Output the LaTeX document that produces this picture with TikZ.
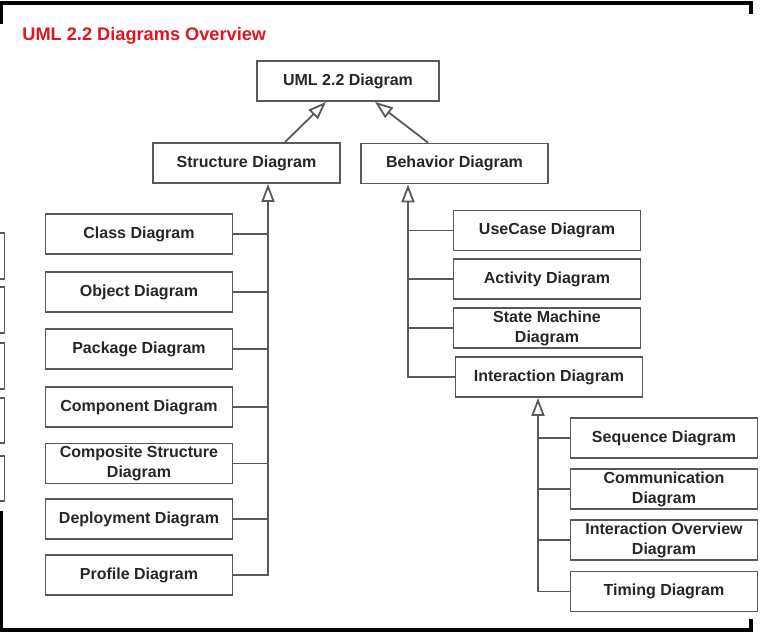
\documentclass[tikz,border=0pt]{standalone}
\usepackage{fontspec}
\setmainfont{Liberation Sans}
\usepackage{tikz}
\usetikzlibrary{arrows.meta,calc}

\begin{document}
\begin{tikzpicture}[x=0.5pt,y=-0.5pt,
  box/.style={draw=black!65,line width=0.9pt,minimum width=93.5pt,minimum height=20pt,inner sep=1pt,align=center,text=black!85,font=\fontsize{8}{10}\selectfont\bfseries},
  link/.style={draw=black!65,line width=0.9pt},
  gen/.style={link,-{Triangle[open,length=9pt,width=6.5pt,fill=white]}},
  frame/.style={line width=1.8pt,black}]
\clip (0,0) rectangle (767,632);
% frame of the screenshot
\draw[frame] (1,24) -- (1,3) -- (751,3) -- (751,14);
\draw[frame] (1,511) -- (1,630) -- (751,630) -- (751,619);
\draw[link] (-20,233) rectangle (4.5,279);
\draw[link] (-20,287) rectangle (4.5,333);
\draw[link] (-20,343) rectangle (4.5,389);
\draw[link] (-20,398) rectangle (4.5,443);
\draw[link] (-20,456) rectangle (4.5,501);
% title
\node[anchor=base west,inner sep=0pt,text={rgb,255:red,228;green,20;blue,30},font=\fontsize{9.1}{11}\selectfont\bfseries] (title) at (22,40) {UML 2.2 Diagrams Overview};
% top levels
\node[box,minimum width=91pt] (uml) at (348,81) {UML 2.2 Diagram};
\node[box] (structure) at (246.5,163) {Structure Diagram};
\node[box] (behavior) at (454.5,163.5) {Behavior Diagram};
\draw[gen] ($(structure.north)+(38.5,0)$) -- ($(uml.south)+(-22,0)$);
\draw[gen] ($(behavior.north)+(-26.5,0)$) -- ($(uml.south)+(27,0)$);
% structure diagrams
\node[box] (class) at (139,234) {Class Diagram};
\node[box] (object) at (139,292) {Object Diagram};
\node[box] (package) at (139,349) {Package Diagram};
\node[box] (component) at (139,407) {Component Diagram};
\node[box] (composite) at (139,463.5) {Composite Structure\\Diagram};
\node[box] (deployment) at (139,519) {Deployment Diagram};
\node[box] (profile) at (139,575) {Profile Diagram};
\coordinate (strunk) at (268,0);
\draw[gen] (profile.east) -| (strunk |- structure.south);
\draw[link] (class.east) -- (class.east -| strunk);
\draw[link] (object.east) -- (object.east -| strunk);
\draw[link] (package.east) -- (package.east -| strunk);
\draw[link] (component.east) -- (component.east -| strunk);
\draw[link] (composite.east) -- (composite.east -| strunk);
\draw[link] (deployment.east) -- (deployment.east -| strunk);
% behavior diagrams
\node[box] (usecase) at (547,230.5) {UseCase Diagram};
\node[box] (activity) at (547,279) {Activity Diagram};
\node[box] (statemachine) at (547,328) {State Machine\\Diagram};
\node[box] (interaction) at (549,377) {Interaction Diagram};
\coordinate (btrunk) at (408,0);
\draw[gen] (interaction.west) -| (btrunk |- behavior.south);
\draw[link] (usecase.west) -- (usecase.west -| btrunk);
\draw[link] (activity.west) -- (activity.west -| btrunk);
\draw[link] (statemachine.west) -- (statemachine.west -| btrunk);
% interaction diagrams
\node[box] (sequence) at (664,438) {Sequence Diagram};
\node[box] (communication) at (664,489) {Communication\\Diagram};
\node[box] (overview) at (664,540) {Interaction Overview\\Diagram};
\node[box] (timing) at (664,591.5) {Timing Diagram};
\coordinate (itrunk) at (538,0);
\draw[gen] (timing.west) -| (itrunk |- interaction.south);
\draw[link] (sequence.west) -- (sequence.west -| itrunk);
\draw[link] (communication.west) -- (communication.west -| itrunk);
\draw[link] (overview.west) -- (overview.west -| itrunk);
\end{tikzpicture}
\end{document}
